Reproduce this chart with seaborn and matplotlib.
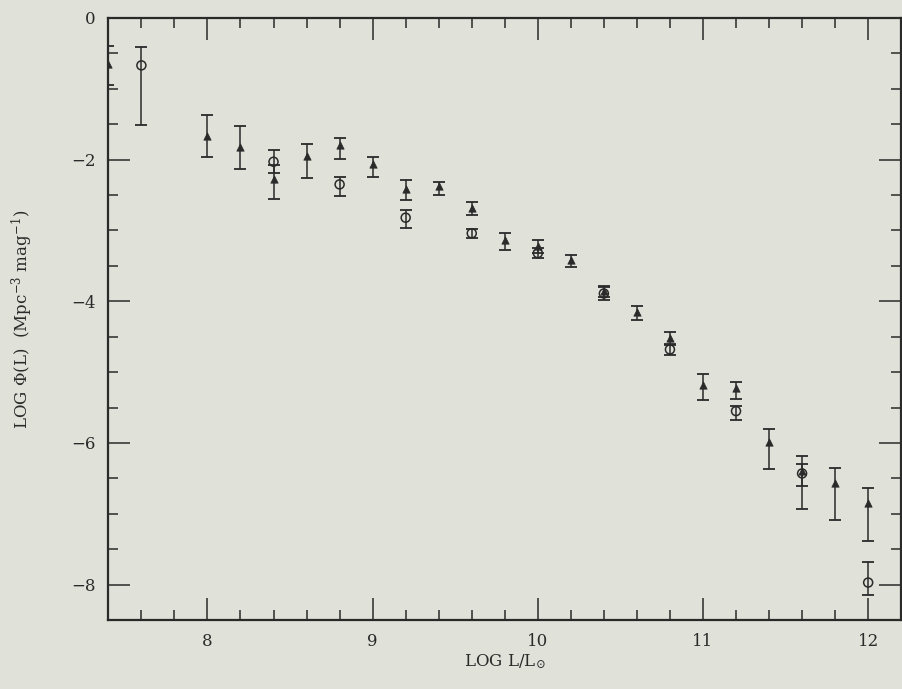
import matplotlib
matplotlib.use("Agg")
import matplotlib.pyplot as plt
import seaborn as sns
import pandas as pd
from matplotlib.ticker import MultipleLocator

# triangles
tri_x = [7.4, 8.0, 8.2, 8.4, 8.6, 8.8, 9.0, 9.2, 9.4, 9.6, 9.8, 10.0, 10.2, 10.4, 10.6, 10.8, 11.0, 11.2, 11.4, 11.6, 11.8, 12.0]
tri_y = [-0.65, -1.66, -1.82, -2.27, -1.95, -1.80, -2.06, -2.41, -2.37, -2.68, -3.13, -3.22, -3.42, -3.86, -4.15, -4.52, -5.18, -5.23, -5.99, -6.39, -6.56, -6.85]
tri_up = [0.25, 0.29, 0.29, 0.20, 0.17, 0.10, 0.10, 0.12, 0.06, 0.08, 0.10, 0.08, 0.07, 0.06, 0.09, 0.08, 0.15, 0.09, 0.19, 0.10, 0.21, 0.22]
tri_dn = [0.30, 0.31, 0.31, 0.29, 0.31, 0.19, 0.19, 0.16, 0.13, 0.10, 0.14, 0.10, 0.09, 0.08, 0.12, 0.10, 0.22, 0.15, 0.38, 0.22, 0.53, 0.54]

# open circles
circ_x = [7.6, 8.4, 8.8, 9.2, 9.6, 10.0, 10.4, 10.8, 11.2, 11.6, 12.0]
circ_y = [-0.67, -2.03, -2.35, -2.82, -3.04, -3.32, -3.89, -4.68, -5.55, -6.43, -7.97]
circ_up = [0.26, 0.16, 0.11, 0.11, 0.06, 0.07, 0.10, 0.08, 0.07, 0.25, 0.29]
circ_dn = [0.84, 0.16, 0.16, 0.15, 0.06, 0.07, 0.09, 0.08, 0.13, 0.50, 0.17]

bg = "#e0e1d9"
ink = "#2a2a2a"

sns.set_theme(style="ticks")
plt.rcParams["font.family"] = ["DejaVu Serif"]
plt.rcParams["mathtext.fontset"] = "dejavuserif"

fig = plt.figure(figsize=(9.03, 6.89), dpi=100, facecolor=bg)
ax = fig.add_axes([0.12, 0.10, 0.878, 0.874], facecolor=bg)

tri = pd.DataFrame({"x": tri_x, "y": tri_y})
circ = pd.DataFrame({"x": circ_x, "y": circ_y})

ax.errorbar(tri_x, tri_y, yerr=[tri_dn, tri_up], fmt="none", ecolor=ink,
            elinewidth=1.1, capsize=4, capthick=1.3, zorder=2)
ax.errorbar(circ_x, circ_y, yerr=[circ_dn, circ_up], fmt="none", ecolor=ink,
            elinewidth=1.1, capsize=4, capthick=1.3, zorder=2)
sns.scatterplot(data=tri, x="x", y="y", marker="^", s=28, color=ink,
                edgecolor=ink, linewidth=0.5, ax=ax, zorder=3)
sns.scatterplot(data=circ, x="x", y="y", marker="o", s=42, facecolor="none",
                edgecolor=ink, linewidth=1.1, ax=ax, zorder=3)

ax.set_xlim(7.4, 12.2)
ax.set_ylim(-8.5, 0)
ax.xaxis.set_major_locator(MultipleLocator(1))
ax.xaxis.set_minor_locator(MultipleLocator(0.2))
ax.yaxis.set_major_locator(MultipleLocator(2))
ax.yaxis.set_minor_locator(MultipleLocator(0.5))

ax.tick_params(which="both", direction="in", top=True, right=True,
               colors=ink, labelcolor=ink, labelsize=12, width=1.1)
ax.tick_params(which="major", length=16, pad=9)
ax.tick_params(which="minor", length=7)
for sp in ax.spines.values():
    sp.set_color(ink)
    sp.set_linewidth(1.6)

ax.set_xlabel(r"LOG L/L$_{\odot}$", fontsize=12, color=ink, labelpad=2)
ax.set_ylabel(r"LOG $\Phi$(L)  (Mpc$^{-3}$ mag$^{-1}$)", fontsize=12, color=ink, labelpad=26)

fig.savefig("out.png", dpi=100, facecolor=bg)
